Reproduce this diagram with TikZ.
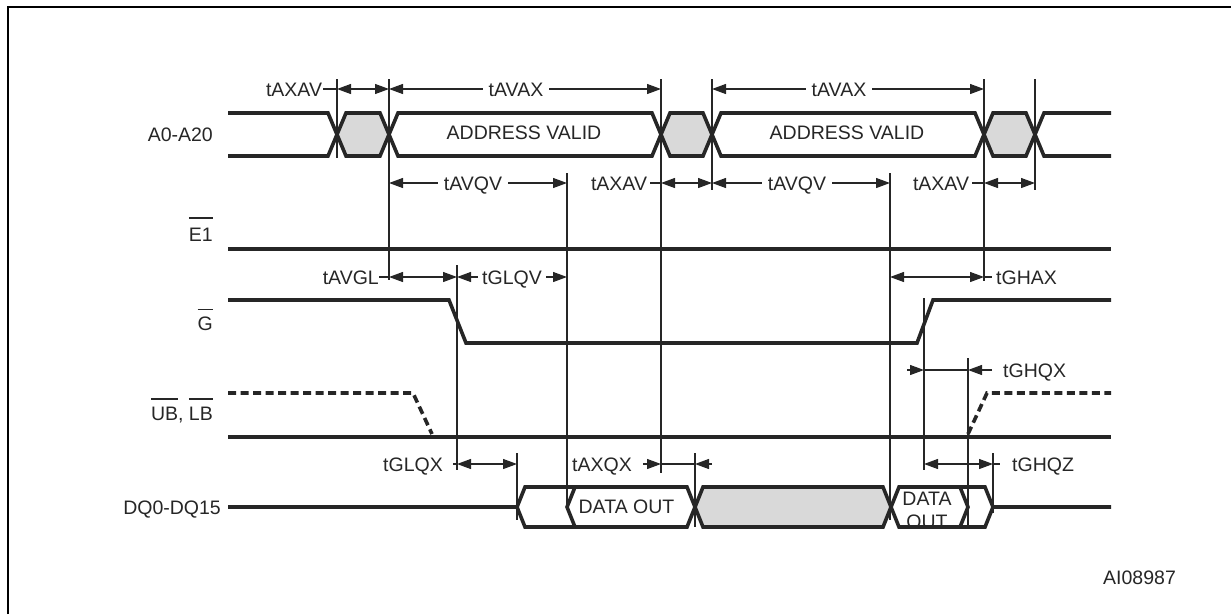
\documentclass[tikz,border=0pt]{standalone}
\usepackage{fontspec}
\setmainfont{Liberation Sans}
\usetikzlibrary{arrows.meta}
\newcommand\obar[2][7pt]{\vbox{\hrule height 1.3pt\kern #1\hbox{#2}}}
\begin{document}
\begin{tikzpicture}[x=1pt,y=-1pt,
  sig/.style={line width=3.6pt, line join=miter, black!85},
  dotsig/.style={sig, dash pattern=on 8pt off 4.5pt},
  tl/.style={line width=1.2pt, black!85},
  tip/.style={-{Triangle[length=14pt,width=10pt]}},
  both/.style={{Triangle[length=14pt,width=10pt]}-{Triangle[length=14pt,width=10pt]}},
  txt/.style={font=\fontsize{19.5}{22}\selectfont, inner sep=0pt, anchor=base, text=black!85},
  gap/.style={txt, fill=white, inner xsep=6pt},
  busfill/.style={fill=black!15}]
\useasboundingbox (0,0) rectangle (1231,614);
% frame
\draw[line width=2.8pt, line join=miter] (8,614) -- (8,7) -- (1231,7);

% ---------- A0-A20 ----------
\fill[busfill] (337,134.5)--(346,113)--(380,113)--(389,134.5)--(380,156)--(346,156)--cycle;
\fill[busfill] (661,134.5)--(670,113)--(703,113)--(712,134.5)--(703,156)--(670,156)--cycle;
\fill[busfill] (984,134.5)--(993,113)--(1026,113)--(1035,134.5)--(1026,156)--(993,156)--cycle;
\draw[sig] (228,113) -- (328,113) -- (346,156) -- (380,156) -- (398,113) -- (652,113) -- (670,156) -- (703,156) -- (721,113) -- (975,113) -- (993,156) -- (1026,156) -- (1044,113) -- (1111,113);
\draw[sig] (228,156) -- (328,156) -- (346,113) -- (380,113) -- (398,156) -- (652,156) -- (670,113) -- (703,113) -- (721,156) -- (975,156) -- (993,113) -- (1026,113) -- (1044,156) -- (1111,156);
\node[txt] (av1) at (524,139) {ADDRESS VALID};
\node[txt] (av2) at (847,139) {ADDRESS VALID};

% ---------- E1, G, UB/LB ----------
\draw[sig] (228,249) -- (1111,249);
\draw[sig] (228,300) -- (449,300) -- (466,343) -- (917,343) -- (933,300) -- (1111,300);
\draw[sig] (228,437) -- (1111,437);
\draw[dotsig] (228,393) -- (413,393) -- (432,434);
\draw[dotsig] (968,434) -- (987,393) -- (1111,393);

% ---------- DQ ----------
\fill[busfill] (695,507)--(703,487)--(883,487)--(891,507)--(883,527)--(703,527)--cycle;
\node[txt] (do1) at (626.5,513) {DATA OUT};
\node[txt] (do2a) at (927,505) {DATA};
\node[txt] (do2b) at (927,528) {OUT};
\draw[sig] (228,507) -- (517,507) -- (525,487) -- (687,487) -- (703,527) -- (883,527) -- (899,487) -- (985,487) -- (993,507) -- (1111,507);
\draw[sig] (517,507) -- (525,527) -- (687,527) -- (703,487) -- (883,487) -- (899,527) -- (985,527) -- (993,507);
\draw[sig] (575,487) -- (567,507) -- (575,527);
\draw[sig] (960,487) -- (968,507) -- (960,527);

% ---------- signal labels ----------
\node[txt, anchor=base east] (la) at (213,141) {A0-A20};
\node[txt, anchor=base east] (le) at (213,241) {\obar[9pt]{E1}};
\node[txt, anchor=base east] (lg) at (213,330) {\obar[6pt]{G}};
\node[txt, anchor=base east] (lu) at (213,420) {\obar{UB}, \obar{LB}};
\node[txt, anchor=base east] (ld) at (221,514) {DQ0-DQ15};
\node[txt, anchor=base west] (ai) at (1103,584) {AI08987};

% ---------- timing reference lines ----------
\draw[tl] (337,79) -- (337,158);
\draw[tl] (389,79) -- (389,280);
\draw[tl] (457,265) -- (457,470);
\draw[tl] (517,453) -- (517,520);
\draw[tl] (567,173) -- (567,507);
\draw[tl] (661,79) -- (661,473);
\draw[tl] (695,453) -- (695,527);
\draw[tl] (712,79) -- (712,190);
\draw[tl] (890,173) -- (890,520);
\draw[tl] (924,298) -- (924,470);
\draw[tl] (968,358) -- (968,527);
\draw[tl] (984,79) -- (984,281);
\draw[tl] (993,453) -- (993,513);
\draw[tl] (1035,79) -- (1035,190);

% ---------- row y=89 ----------
\node[txt] (t1) at (294,96) {tAXAV};
\draw[tl] (323,89) -- (337,89);
\draw[tl,both] (337,89) -- (389,89);
\draw[tl,both] (389,89) -- (661,89);
\node[gap] (t2) at (516,96) {tAVAX};
\draw[tl,both] (712,89) -- (984,89);
\node[gap] (t3) at (839,96) {tAVAX};

% ---------- row y=183 ----------
\draw[tl,both] (389,183) -- (567,183);
\node[gap] (t4) at (473,190) {tAVQV};
\node[txt] (t5) at (619,190) {tAXAV};
\draw[tl] (650,183) -- (661,183);
\draw[tl,both] (661,183) -- (712,183);
\draw[tl,both] (712,183) -- (890,183);
\node[gap] (t6) at (797,190) {tAVQV};
\node[txt] (t7) at (941,190) {tAXAV};
\draw[tl] (972,183) -- (984,183);
\draw[tl,both] (984,183) -- (1035,183);

% ---------- row y=277 ----------
\node[txt, anchor=base east] (t8) at (379,284) {tAVGL};
\draw[tl] (379,277) -- (389,277);
\draw[tl,both] (389,277) -- (457,277);
\draw[tl,both] (457,277) -- (567,277);
\node[gap, inner xsep=4pt] (t9) at (512,284) {tGLQV};
\draw[tl,both] (890,277) -- (984,277);
\draw[tl] (984,277) -- (992,277);
\node[txt, anchor=base west] (t10) at (996,284) {tGHAX};

% ---------- row y=370 ----------
\draw[tl,tip] (907,370) -- (924,370);
\draw[tl] (924,370) -- (968,370);
\draw[tl,tip] (992,370) -- (968,370);
\node[txt, anchor=base west] (t11) at (1003,377) {tGHQX};

% ---------- row y=464 ----------
\node[txt, anchor=base east] (t12) at (443,471) {tGLQX};
\draw[tl] (453,464) -- (457,464);
\draw[tl,both] (457,464) -- (517,464);
\node[txt, anchor=base west] (t13) at (572,471) {tAXQX};
\draw[tl,tip] (643,464) -- (661,464);
\draw[tl] (661,464) -- (695,464);
\draw[tl,tip] (712,464) -- (695,464);
\draw[tl,both] (924,464) -- (993,464);
\draw[tl] (993,464) -- (1000,464);
\node[txt, anchor=base west] (t14) at (1012,471) {tGHQZ};
\end{tikzpicture}
\end{document}
